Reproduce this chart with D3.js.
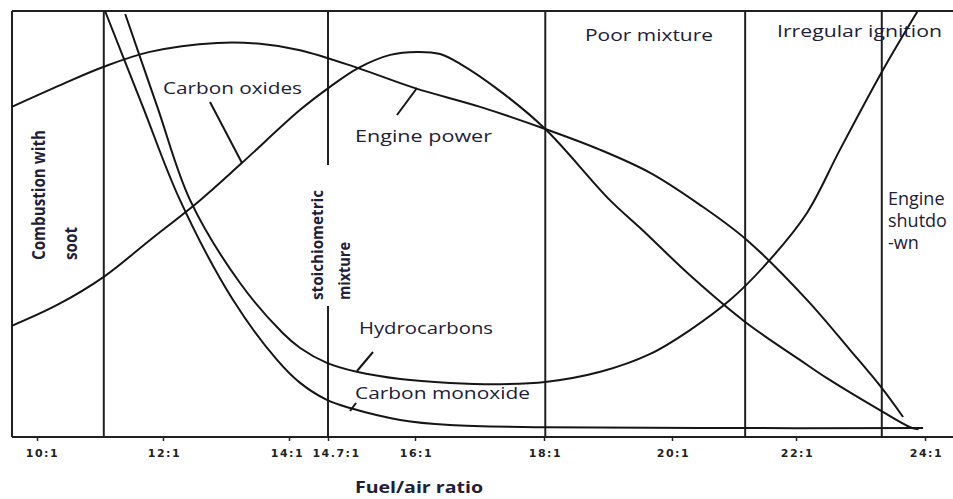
<!DOCTYPE html>
<html>
<head>
<meta charset="utf-8">
<script src="https://cdn.jsdelivr.net/npm/d3@7"></script>
<style>
  body { margin: 0; background: #fff; }
  svg { display: block; }
  .curve { fill: none; stroke: #151515; stroke-width: 2; }
  .rule { stroke: #202020; stroke-width: 2; }
  .tick text { font-family: "DejaVu Sans", sans-serif; font-weight: bold; font-size: 11px; letter-spacing: 1.5px; fill: #222; }
  .tick line { stroke: #222; stroke-width: 1.5; }
  .lbl { font-family: "Open Sans", "Noto Sans", sans-serif; font-size: 17px; fill: #1c2038; }
  .vlbl { font-family: "Open Sans", "Noto Sans", sans-serif; font-weight: bold; font-size: 17px; fill: #1c2038; }
</style>
</head>
<body>
<div id="chart"></div>
<script>
// chart size
var svgWidth = 953;
var svgHeight = 499;

// x ticks (fuel/air ratio) and their labels
var tickValues = [10, 12, 14, 14.7, 16, 18, 20, 22, 24];
var tickLabels = ["10:1", "12:1", "14:1", "14.7:1", "16:1", "18:1", "20:1", "22:1", "24:1"];

// zone boundaries (fuel/air ratio)
var zoneBounds = [11.06, 14.7, 18.02, 21.18, 23.33];

// curves: [fuel/air ratio, relative level 0-100]
var enginePower = [
  [9.6, 77.5], [10.37, 82.6], [11.06, 86.9], [11.79, 90.4], [12.86, 92.5],
  [13.54, 92.3], [14.2, 90.8], [15.15, 86.6], [16.0, 81.9], [17.01, 77.5],
  [18.02, 72.3], [18.88, 67.4], [19.66, 62.0], [20.45, 54.5], [21.21, 46.2],
  [22.17, 32.2], [22.84, 20.4], [23.32, 11.7], [23.66, 4.7]
];

var carbonOxides = [
  [9.6, 26.1], [10.32, 31.0], [11.06, 37.6], [11.79, 46.2], [12.59, 55.6],
  [13.25, 64.3], [14.2, 76.8], [14.73, 82.2], [15.15, 86.6], [15.63, 89.7],
  [16.03, 90.4], [16.39, 89.9], [16.7, 87.6], [17.32, 81.2], [18.02, 72.3],
  [19.03, 55.6], [19.5, 49.1], [20.34, 37.3], [21.18, 27.0], [22.06, 18.1],
  [22.48, 13.8], [23.3, 6.3], [23.77, 2.3], [23.9, 1.8]
];

var hydrocarbons = [
  [11.4, 99.3], [11.91, 77.5], [12.43, 55.6], [13.22, 36.2], [13.9, 24.4],
  [14.2, 20.9], [14.68, 17.4], [15.13, 15.3], [15.78, 13.6], [16.54, 12.7],
  [17.32, 12.4], [18.02, 12.9], [18.88, 15.3], [19.66, 19.5], [20.29, 25.1],
  [20.94, 32.2], [21.53, 40.8], [22.17, 52.6], [22.68, 67.4], [23.35, 86.2],
  [23.88, 99.8]
];

var carbonMonoxide = [
  [11.08, 100], [11.67, 77.9], [12.27, 55.6], [13.11, 32.2], [13.81, 18.1],
  [14.2, 12.7], [14.68, 8.7], [15.03, 6.8], [15.78, 4.0], [16.54, 2.8],
  [18.02, 2.3], [20.45, 2.1], [23.97, 2.1]
];

// frame
var frame = { left: 12, top: 11, bottom: 437, right: 953 };

var svg = d3.select("#chart")
  .append("svg")
  .attr("width", svgWidth)
  .attr("height", svgHeight);

// piecewise x scale: the printed ticks are not evenly spaced
var xScale = d3.scaleLinear()
  .domain(tickValues)
  .range([37, 163, 289, 328, 415, 544, 672, 796, 925]);

var yScale = d3.scaleLinear()
  .domain([0, 100])
  .range([frame.bottom, frame.top]);

// frame lines: top, bottom, left
svg.append("line").attr("class", "rule")
  .attr("x1", frame.left).attr("x2", frame.right)
  .attr("y1", frame.top).attr("y2", frame.top);
svg.append("line").attr("class", "rule")
  .attr("x1", frame.left).attr("x2", frame.right)
  .attr("y1", frame.bottom).attr("y2", frame.bottom);
svg.append("line").attr("class", "rule")
  .attr("x1", frame.left).attr("x2", frame.left)
  .attr("y1", frame.top).attr("y2", frame.bottom);

// zone boundaries (stoichiometric one leaves room for its label)
zoneBounds.forEach(function(b) {
  var xp = xScale(b);
  if (b === 14.7) {
    svg.append("line").attr("class", "rule")
      .attr("x1", xp).attr("x2", xp).attr("y1", frame.top).attr("y2", 165);
    svg.append("line").attr("class", "rule")
      .attr("x1", xp).attr("x2", xp).attr("y1", 306).attr("y2", frame.bottom);
  } else {
    svg.append("line").attr("class", "rule")
      .attr("x1", xp).attr("x2", xp).attr("y1", frame.top).attr("y2", frame.bottom);
  }
});

// x axis
var bottomAxis = d3.axisBottom(xScale)
  .tickValues(tickValues)
  .tickFormat(function(d, i) { return tickLabels[i]; })
  .tickSize(4)
  .tickSizeOuter(0)
  .tickPadding(8);

var xAxis = svg.append("g")
  .attr("transform", `translate(0, ${frame.bottom})`)
  .call(bottomAxis);
xAxis.select(".domain").remove();
xAxis.selectAll(".tick text").attr("dx", function(d) {
  return d === 14.7 ? 8 : (d === 10 ? 5 : (d === 14 ? -2 : 1));
});

// curves
var lineGen = d3.line()
  .x(d => xScale(d[0]))
  .y(d => yScale(d[1]))
  .curve(d3.curveCatmullRom.alpha(0.5));

[enginePower, carbonOxides, hydrocarbons, carbonMonoxide].forEach(function(s) {
  svg.append("path").attr("class", "curve").attr("d", lineGen(s));
});

// leader lines
var leaders = [
  [210, 102, 242, 163],
  [397, 115, 417, 88],
  [373, 352, 357, 371],
  [356, 403, 350, 411]
];
leaders.forEach(function(l) {
  svg.append("line").attr("class", "curve")
    .attr("x1", l[0]).attr("y1", l[1]).attr("x2", l[2]).attr("y2", l[3]);
});

// curve labels
function label(txt, x, y, len, size) {
  var t = svg.append("text").attr("class", "lbl")
    .attr("x", x).attr("y", y).text(txt);
  if (len) t.attr("textLength", len).attr("lengthAdjust", "spacingAndGlyphs");
  if (size) t.style("font-size", size + "px");
  return t;
}
label("Carbon oxides", 163, 94, 139);
label("Engine power", 355, 142, 137);
label("Poor mixture", 585, 41, 128);
label("Irregular ignition", 777, 37, 165);
label("Hydrocarbons", 359, 334, 134);
label("Carbon monoxide", 355, 399, 175);
label("Engine", 888, 205, null, 18);
label("shutdo", 888, 227, null, 18);
label("-wn", 888, 249, null, 18);

// rotated zone labels
function vlabel(txt, x, y, len, size) {
  svg.append("text").attr("class", "vlbl")
    .attr("transform", `translate(${x}, ${y}) rotate(-90)`)
    .style("font-size", size + "px")
    .attr("textLength", len).attr("lengthAdjust", "spacingAndGlyphs")
    .text(txt);
}
vlabel("Combustion with", 45, 260, 130, 17);
vlabel("soot", 77, 260, 33, 17);
vlabel("stoichiometric", 323, 300, 110, 16);
vlabel("mixture", 350, 300, 58, 16);

// x axis title
svg.append("text")
  .attr("x", 419)
  .attr("y", 493)
  .attr("text-anchor", "middle")
  .attr("textLength", 128)
  .attr("lengthAdjust", "spacingAndGlyphs")
  .style("font-family", "'Open Sans', sans-serif")
  .style("font-weight", "bold")
  .style("font-size", "16px")
  .style("fill", "#1c2038")
  .text("Fuel/air ratio");
</script>
</body>
</html>
